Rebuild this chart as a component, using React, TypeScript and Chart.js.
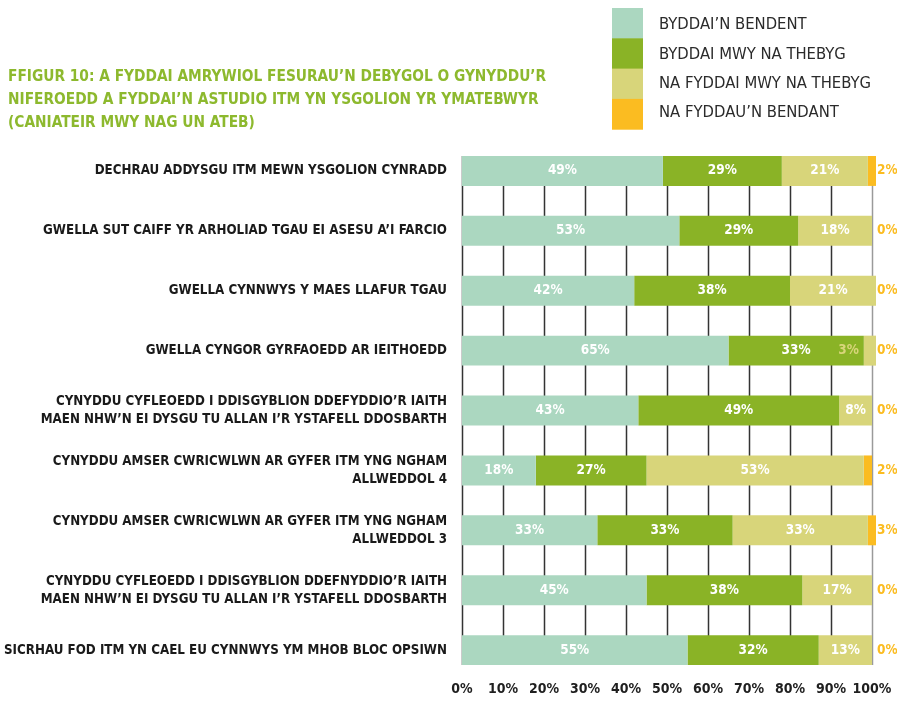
import React, { useEffect, useRef } from 'react';
import { Chart, registerables } from 'chart.js';

Chart.register(...registerables);

const FONT = "'DejaVu Sans Condensed', 'Liberation Sans Narrow', 'DejaVu Sans', sans-serif";

const titleLines = [
  'FFIGUR 10: A FYDDAI AMRYWIOL FESURAU’N DEBYGOL O GYNYDDU’R',
  'NIFEROEDD A FYDDAI’N ASTUDIO ITM YN YSGOLION YR YMATEBWYR',
  '(CANIATEIR MWY NAG UN ATEB)',
];

const categories: string[][] = [
  ['DECHRAU ADDYSGU ITM MEWN YSGOLION CYNRADD'],
  ['GWELLA SUT CAIFF YR ARHOLIAD TGAU EI ASESU A’I FARCIO'],
  ['GWELLA CYNNWYS Y MAES LLAFUR TGAU'],
  ['GWELLA CYNGOR GYRFAOEDD AR IEITHOEDD'],
  ['CYNYDDU CYFLEOEDD I DDISGYBLION DDEFYDDIO’R IAITH', 'MAEN NHW’N EI DYSGU TU ALLAN I’R YSTAFELL DDOSBARTH'],
  ['CYNYDDU AMSER CWRICWLWN AR GYFER ITM YNG NGHAM', 'ALLWEDDOL 4'],
  ['CYNYDDU AMSER CWRICWLWN AR GYFER ITM YNG NGHAM', 'ALLWEDDOL 3'],
  ['CYNYDDU CYFLEOEDD I DDISGYBLION DDEFNYDDIO’R IAITH', 'MAEN NHW’N EI DYSGU TU ALLAN I’R YSTAFELL DDOSBARTH'],
  ['SICRHAU FOD ITM YN CAEL EU CYNNWYS YM MHOB BLOC OPSIWN'],
];

const seriesNames = [
  'BYDDAI’N BENDENT',
  'BYDDAI MWY NA THEBYG',
  'NA FYDDAI MWY NA THEBYG',
  'NA FYDDAU’N BENDANT',
];

const definitely = [49, 53, 42, 65, 43, 18, 33, 45, 55];
const likely = [29, 29, 38, 33, 49, 27, 33, 38, 32];
const unlikely = [21, 18, 21, 3, 8, 53, 33, 17, 13];
const definitelyNot = [2, 0, 0, 0, 0, 2, 3, 0, 0];

const xTicks = [0, 10, 20, 30, 40, 50, 60, 70, 80, 90, 100];

const colors = ['#ABD7C0', '#8AB326', '#D8D57A', '#FBBC21'];
const TITLE_COLOR = '#8DB92E';

const gridPlugin = {
  id: 'customGrid',
  beforeDatasetsDraw(chart: any) {
    const { ctx } = chart;
    const xs = chart.scales.x;
    const meta = chart.getDatasetMeta(0);
    const first = meta.data[0];
    const last = meta.data[meta.data.length - 1];
    if (!first || !last) return;
    const top = first.y - first.height / 2;
    const bottom = last.y + last.height / 2;
    ctx.save();
    xTicks.forEach((v) => {
      const x = Math.round(xs.getPixelForValue(v)) + 0.5;
      ctx.beginPath();
      ctx.strokeStyle = v === 100 ? '#9a9a9a' : '#333333';
      ctx.lineWidth = 1.5;
      ctx.moveTo(x, top);
      ctx.lineTo(x, bottom);
      ctx.stroke();
    });
    ctx.restore();
  },
};

const labelPlugin = {
  id: 'valueLabels',
  afterDatasetsDraw(chart: any) {
    const { ctx } = chart;
    const xs = chart.scales.x;
    ctx.save();
    ctx.font = `bold 13.5px ${FONT}`;
    ctx.textBaseline = 'middle';
    chart.data.datasets.forEach((ds: any, di: number) => {
      const meta = chart.getDatasetMeta(di);
      meta.data.forEach((el: any, i: number) => {
        const v = ds.data[i];
        const text = `${v}%`;
        if (di === 3) {
          ctx.fillStyle = colors[3];
          ctx.textAlign = 'left';
          ctx.fillText(text, xs.getPixelForValue(100) + 5, el.y);
        } else if (v < 5) {
          ctx.fillStyle = colors[di];
          ctx.textAlign = 'right';
          ctx.fillText(text, Math.min(el.base, el.x) - 5, el.y);
        } else {
          ctx.fillStyle = '#ffffff';
          ctx.textAlign = 'center';
          ctx.fillText(text, (el.base + el.x) / 2, el.y);
        }
      });
    });
    ctx.restore();
  },
};

const headerPlugin = {
  id: 'header',
  afterDraw(chart: any) {
    const { ctx } = chart;
    ctx.save();
    ctx.font = `bold 15.3px ${FONT}`;
    ctx.fillStyle = TITLE_COLOR;
    ctx.textAlign = 'left';
    ctx.textBaseline = 'middle';
    titleLines.forEach((line, i) => {
      ctx.fillText(line, 8, 77 + i * 23);
    });
    const sw = 31;
    const sh = 30.3;
    const lx = 612;
    const ly = 8;
    ctx.font = `16.5px ${FONT}`;
    chart.data.datasets.forEach((ds: any, i: number) => {
      ctx.fillStyle = ds.backgroundColor;
      ctx.fillRect(lx, ly + i * sh, sw, sh + 0.5);
      ctx.fillStyle = '#2b2b2b';
      ctx.fillText(ds.label, 659, 25 + i * 29.4);
    });
    ctx.restore();
  },
};

export default function App() {
  const canvasRef = useRef<HTMLCanvasElement | null>(null);

  useEffect(() => {
    if (!canvasRef.current) return;
    const data = [definitely, likely, unlikely, definitelyNot];
    const chart = new Chart(canvasRef.current, {
      type: 'bar',
      data: {
        labels: categories,
        datasets: data.map((d, i) => ({
          label: seriesNames[i],
          data: d,
          backgroundColor: colors[i],
          borderWidth: 0,
          barPercentage: 0.5,
          categoryPercentage: 1,
          clip: { left: 0, right: 4, top: 20, bottom: 20 },
        })),
      },
      options: {
        indexAxis: 'y',
        animation: false,
        responsive: false,
        layout: { padding: { top: 141, right: 25, left: 0, bottom: 0 } },
        plugins: {
          legend: { display: false },
          title: { display: false },
          tooltip: { enabled: false },
        },
        scales: {
          x: {
            stacked: true,
            min: 0,
            max: 100,
            grid: { display: false, drawTicks: false },
            border: { display: false },
            afterBuildTicks(scale: any) {
              scale.ticks = xTicks.map((v) => ({ value: v }));
            },
            afterFit(scale: any) {
              scale.height = 19;
            },
            ticks: {
              padding: 1,
              maxRotation: 0,
              autoSkip: false,
              color: '#1f1f1f',
              font: { family: FONT, size: 14, weight: 'bold' },
              callback: (v: any) => `${v}%`,
            },
          },
          y: {
            stacked: true,
            grid: { display: false, drawTicks: false },
            border: { display: false },
            afterFit(scale: any) {
              scale.width = 462;
            },
            ticks: {
              padding: 15,
              autoSkip: false,
              color: '#1a1a1a',
              font: { family: FONT, size: 13.25, weight: 'bold', lineHeight: 1.35 },
            },
          },
        },
      },
      plugins: [gridPlugin, labelPlugin, headerPlugin],
    } as any);
    return () => chart.destroy();
  }, []);

  return (
    <div style={{ position: 'absolute', left: 0, top: 0, width: 897, height: 704, background: '#fff' }}>
      <canvas ref={canvasRef} width={897} height={704} style={{ display: 'block' }} />
    </div>
  );
}
